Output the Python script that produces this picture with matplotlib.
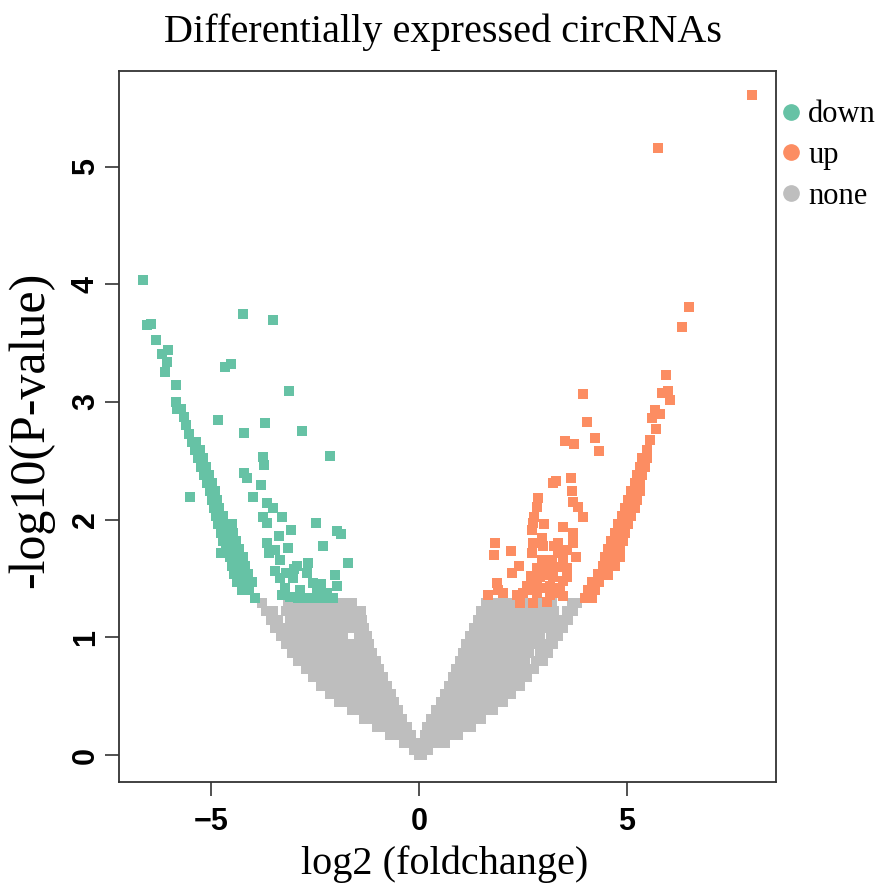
import numpy as np
import matplotlib.pyplot as plt
from matplotlib.lines import Line2D

col_down = '#66C2A5'
col_up = '#FC8D62'
col_none = '#BEBEBE'

#%% values (x = log2 FC, y = -log10 P)

# grey cloud, row by row: (y level, x positions along that row)
none_rows = [
    (0.00, [0.0, 0.08]),
    (0.04, [-0.11, 0.0, 0.11, 0.22]),
    (0.10, [-0.37, -0.23, -0.1, 0.1, 0.27, 0.45, 0.62]),
    (0.17, [-0.69, -0.52, -0.36, -0.2, 0.15, 0.35, 0.54, 0.74, 0.93]),
    (0.24, [-1.0, -0.82, -0.64, -0.47, -0.3, 0.2, 0.41, 0.62, 0.83, 1.04, 1.25]),
    (0.31, [-1.32, -1.13, -0.95, -0.77, -0.58, -0.4, 0.3, 0.5, 0.7, 0.9, 1.1, 1.3, 1.5]),
    (0.38, [-1.62, -1.43, -1.25, -1.06, -0.87, -0.68, -0.5,
            0.4, 0.6, 0.79, 0.99, 1.19, 1.39, 1.58, 1.78]),
    (0.45, [-1.92, -1.73, -1.54, -1.35, -1.16, -0.97, -0.78, -0.6,
            0.52, 0.71, 0.9, 1.08, 1.27, 1.46, 1.65, 1.83, 2.02]),
    (0.52, [-2.14, -1.96, -1.77, -1.59, -1.41, -1.23, -1.04, -0.86, -0.68,
            0.62, 0.82, 1.02, 1.22, 1.42, 1.62, 1.82, 2.02, 2.22]),
    (0.59, [-2.35, -2.18, -2.0, -1.83, -1.65, -1.48, -1.3, -1.13, -0.95, -0.78,
            0.72, 0.91, 1.1, 1.29, 1.48, 1.66, 1.85, 2.04, 2.23, 2.42]),
    (0.66, [-2.55, -2.36, -2.17, -1.99, -1.8, -1.61, -1.42, -1.23, -1.05, -0.86,
            0.82, 1.02, 1.21, 1.41, 1.61, 1.8, 2.0, 2.2, 2.39, 2.59]),
    (0.73, [-2.72, -2.52, -2.33, -2.13, -1.93, -1.74, -1.54, -1.34, -1.15, -0.95,
            0.9, 1.09, 1.27, 1.46, 1.64, 1.83, 2.02, 2.2, 2.39, 2.57, 2.76]),
    (0.80, [-2.9, -2.71, -2.53, -2.34, -2.16, -1.97, -1.78, -1.6, -1.41, -1.23, -1.04,
            0.98, 1.18, 1.37, 1.57, 1.77, 1.96, 2.16, 2.35, 2.55, 2.8, 2.98]),
    (0.87, [-3.06, -2.87, -2.67, -2.48, -2.28, -2.09, -1.9, -1.7, -1.51, -1.31, -1.12,
            1.05, 1.25, 1.45, 1.65, 1.85, 2.05, 2.25, 2.45, 2.65, 2.92, 3.1]),
    (0.94, [-3.2, -3.04, -2.8, -2.6, -2.4, -2.2, -2.0, -1.8, -1.6, -1.4, -1.2,
            1.12, 1.31, 1.49, 1.68, 1.87, 2.05, 2.24, 2.43, 2.61, 2.8, 3.04, 3.22]),
    (1.01, [-3.32, -3.15, -2.95, -2.76, -2.57, -2.39, -2.2, -2.01, -1.82, -1.45, -1.26,
            1.22, 1.41, 1.6, 1.79, 1.98, 2.16, 2.35, 2.54, 2.73, 2.92, 3.17, 3.35]),
    (1.08, [-3.45, -3.27, -3.05, -2.86, -2.67, -2.47, -2.28, -2.09, -1.9, -1.7, -1.51, -1.32,
            1.32, 1.51, 1.7, 1.9, 2.09, 2.28, 2.47, 2.67, 2.86, 3.05, 3.29, 3.47]),
    (1.15, [-3.56, -3.38, -3.1, -2.91, -2.72, -2.52, -2.33, -2.14, -1.95, -1.75, -1.56, -1.37,
            1.42, 1.62, 1.82, 2.01, 2.21, 2.41, 2.61, 2.8, 3.0, 3.2, 3.42, 3.58]),
    (1.22, [-3.67, -3.5, -3.2, -3.0, -2.8, -2.6, -2.4, -2.2, -2.0, -1.8, -1.6, -1.4,
            1.5, 1.69, 1.89, 2.08, 2.28, 2.47, 2.67, 2.86, 3.06, 3.25, 3.55, 3.7]),
    (1.29, [-3.77, -3.15, -2.95, -2.75, -2.55, -2.35, -2.15, -1.95, -1.75, -1.6,
            1.62, 1.82, 2.02, 2.22, 2.42, 2.62, 2.82, 3.02, 3.2, 3.68, 3.8]),
]

# down-regulated: the dense outer band, row by row
down_band_rows = [
    (1.33, [-3.95]),
    (1.40, [-4.25, -4.08]),
    (1.47, [-4.38, -4.2, -4.02]),
    (1.54, [-4.45, -4.28, -4.1]),
    (1.61, [-4.5, -4.35, -4.18]),
    (1.68, [-4.55, -4.4, -4.22]),
    (1.75, [-4.65, -4.5, -4.32]),
    (1.82, [-4.7, -4.55, -4.4]),
    (1.89, [-4.77, -4.6, -4.47]),
    (1.96, [-4.82, -4.65, -4.5]),
    (2.03, [-4.88, -4.72]),
    (2.10, [-4.93, -4.8]),
    (2.17, [-4.98, -4.85]),
    (2.24, [-5.02, -4.9]),
    (2.31, [-5.1, -4.98]),
    (2.38, [-5.17, -5.05]),
    (2.45, [-5.25, -5.12]),
    (2.52, [-5.32, -5.2]),
    (2.59, [-5.38, -5.27]),
    (2.66, [-5.45, -5.35]),
    (2.73, [-5.52]),
    (2.80, [-5.6]),
    (2.87, [-5.65]),
    (2.94, [-5.82, -5.72]),
    (3.00, [-5.85]),
]
# down-regulated: single points
down_x = [-6.63, -6.54, -6.45, -6.32, -6.18, -6.03, -6.06, -6.1, -5.84, -5.5, -4.76,
          -4.23, -3.51, -4.66, -4.52, -3.13, -4.83, -4.2, -3.7, -2.81, -3.75, -3.73,
          -2.14, -4.2, -4.13, -3.8, -3.99, -3.65, -3.51, -3.75, -3.65, -3.29, -3.08,
          -2.48, -1.97, -1.88, -3.37, -3.65, -3.15, -2.31, -3.34, -2.93, -2.67, -1.71,
          -3.34, -3.03, -2.69, -2.55, -3.22, -2.86, -2.45, -2.21, -2.02, -1.97, -3.1,
          -2.69, -2.07, -3.45, -3.2, -3.0, -3.3, -2.9, -2.5, -2.3, -2.35, -3.6, -3.45]
down_y = [4.04, 3.65, 3.66, 3.53, 3.41, 3.44, 3.34, 3.25, 3.14, 2.19, 1.72,
          3.75, 3.7, 3.3, 3.32, 3.09, 2.85, 2.74, 2.82, 2.75, 2.53, 2.46,
          2.54, 2.4, 2.35, 2.29, 2.19, 2.14, 2.1, 2.02, 1.97, 2.02, 1.91,
          1.97, 1.9, 1.88, 1.86, 1.8, 1.76, 1.78, 1.66, 1.61, 1.63, 1.63,
          1.5, 1.5, 1.55, 1.46, 1.42, 1.4, 1.38, 1.38, 1.53, 1.44, 1.34,
          1.33, 1.33, 1.56, 1.55, 1.58, 1.36, 1.33, 1.33, 1.33, 1.45, 1.72, 1.74]

# up-regulated: the dense outer band, row by row
up_band_rows = [
    (1.33, [4.0, 4.15]),
    (1.40, [4.05, 4.22]),
    (1.47, [4.15, 4.32]),
    (1.54, [4.3, 4.45, 4.55]),
    (1.61, [4.42, 4.57, 4.7]),
    (1.68, [4.47, 4.62, 4.77, 4.83]),
    (1.75, [4.55, 4.7, 4.83]),
    (1.82, [4.62, 4.78, 4.9]),
    (1.89, [4.7, 4.85, 4.95]),
    (1.96, [4.78, 4.92, 5.02]),
    (2.03, [4.88, 5.0, 5.1]),
    (2.10, [4.95, 5.08, 5.18]),
    (2.17, [5.02, 5.15, 5.25]),
    (2.24, [5.1, 5.22, 5.3]),
    (2.31, [5.2, 5.3]),
    (2.38, [5.25, 5.36]),
    (2.45, [5.3, 5.42]),
    (2.52, [5.36, 5.48]),
    (2.59, [5.47]),
    (2.68, [5.55]),
]
# up-regulated: single points
up_x = [5.7, 5.6, 5.67, 5.79, 5.83, 5.99, 6.03, 5.94, 6.32, 6.5, 5.75, 8.0, 4.55,
        3.93, 4.04, 3.51, 3.73, 4.23, 4.33, 3.22, 3.3, 3.65, 3.68, 3.7, 3.82, 3.94,
        2.86, 2.84, 2.76, 2.74, 2.72, 3.0, 3.46, 3.7, 3.7, 1.83, 1.8, 2.21, 2.74,
        2.72, 2.96, 2.98, 3.34, 3.34, 3.56, 3.77, 2.4, 2.24, 2.84, 3.08, 3.32, 3.56,
        2.91, 3.22, 3.56, 1.87, 1.66, 2.02, 2.36, 2.6, 2.84, 3.15, 3.39, 2.5, 2.84,
        3.15, 3.32, 2.43, 2.74, 3.08, 3.0, 3.1, 2.7, 3.45, 3.0, 2.7, 3.45, 2.95,
        3.2, 3.45, 3.25, 1.9]
up_y = [2.77, 2.86, 2.93, 2.9, 3.08, 3.09, 3.02, 3.23, 3.64, 3.81, 5.16, 5.61, 1.53,
        3.07, 2.83, 2.67, 2.64, 2.69, 2.58, 2.31, 2.33, 2.35, 2.24, 2.15, 2.11, 2.02,
        2.18, 2.11, 2.02, 1.97, 1.91, 1.96, 1.94, 1.89, 1.8, 1.8, 1.7, 1.73, 1.8,
        1.72, 1.84, 1.78, 1.8, 1.72, 1.74, 1.68, 1.61, 1.55, 1.59, 1.61, 1.6, 1.59,
        1.51, 1.51, 1.51, 1.46, 1.36, 1.38, 1.36, 1.44, 1.46, 1.44, 1.42, 1.38, 1.38,
        1.36, 1.38, 1.29, 1.29, 1.3, 1.55, 1.53, 1.52, 1.48, 1.42, 1.4, 1.35, 1.66,
        1.66, 1.66, 1.78, 1.4]


def unpack(rows):
    xs, ys = [], []
    for y, row in rows:
        xs += row
        ys += [y] * len(row)
    return np.array(xs), np.array(ys)


none_px, none_py = unpack(none_rows)
db_x, db_y = unpack(down_band_rows)
ub_x, ub_y = unpack(up_band_rows)
all_down_x = np.concatenate([db_x, down_x])
all_down_y = np.concatenate([db_y, down_y])
all_up_x = np.concatenate([ub_x, up_x])
all_up_y = np.concatenate([ub_y, up_y])

#%% plot

fig = plt.figure(figsize=(8.86, 8.96), dpi=100)
ax = fig.add_axes([119 / 886, 1 - 782 / 896, (776 - 119) / 886, (782 - 70.7) / 896])

msize = 6.5 ** 2
ax.scatter(none_px, none_py, s=msize, marker='s', color=col_none, linewidths=0)
ax.scatter(all_down_x, all_down_y, s=msize, marker='s', color=col_down, linewidths=0)
ax.scatter(all_up_x, all_up_y, s=msize, marker='s', color=col_up, linewidths=0)

ax.set_xlim(-7.21, 8.58)
ax.set_ylim(-0.229, 5.814)
ax.set_xticks([-5, 0, 5])
ax.set_yticks([0, 1, 2, 3, 4, 5])

for sp in ax.spines.values():
    sp.set_linewidth(1.3)
    sp.set_color('#333333')

ax.tick_params(direction='out', length=10, width=1.2, color='#333333', labelsize=22)
ax.tick_params(axis='x', pad=8)
ax.tick_params(axis='y', pad=3, labelrotation=90)
for lab in ax.get_xticklabels() + ax.get_yticklabels():
    lab.set_fontweight('bold')
    lab.set_family('Liberation Sans')
for lab in ax.get_yticklabels():
    lab.set_va('center')

serif = 'Liberation Serif'
fig.text(0.5, 1 - 42 / 896, 'Differentially expressed circRNAs', ha='center',
         va='baseline', fontsize=29, family=serif)
fig.text(445 / 886, 1 - 874 / 896, 'log2 (foldchange)', ha='center', va='baseline',
         fontsize=29, family=serif)
fig.text(31 / 886, 1 - 430 / 896, '-log10(P-value)', ha='center', va='center',
         rotation=90, fontsize=36, family=serif)

handles = [Line2D([], [], marker='o', linestyle='none', color=c, markersize=11)
           for c in (col_down, col_up, col_none)]
ax.legend(handles, ['down', 'up', 'none'], loc='upper left',
          bbox_to_anchor=(1.0, 0.967), frameon=False, prop={'family': serif, 'size': 22},
          handlelength=0.6, handletextpad=0.25, labelspacing=0.38, borderpad=0,
          borderaxespad=0.2)

fig.savefig('out.png', dpi=100)
